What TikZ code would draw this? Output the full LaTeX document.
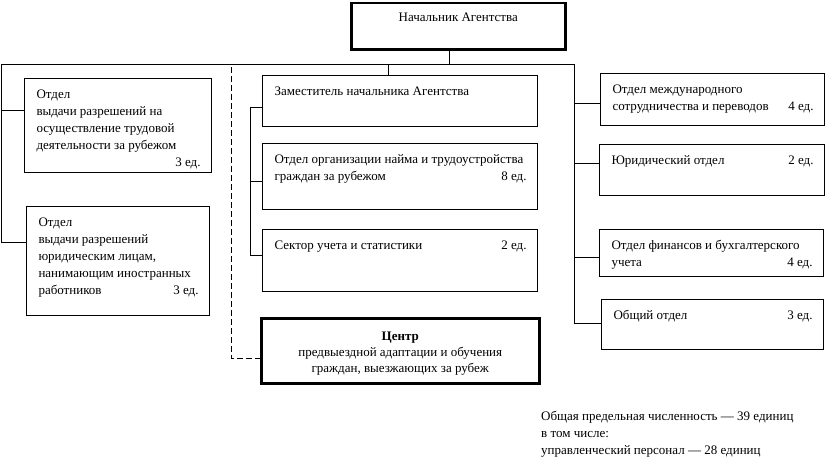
\documentclass[tikz,border=0pt]{standalone}
\usepackage{fontspec}
\setmainfont{Liberation Serif}
\usetikzlibrary{calc}
\tikzset{
  unit/.style={draw, line width=1pt, anchor=north west, inner sep=0pt},
  chief/.style={unit, line width=2.5pt},
  link/.style={line width=1pt},
  dashlink/.style={link, dash pattern=on 6pt off 3pt}
}
\newcommand{\unittext}[3]{\parbox[c][#2][t]{#1}{\leftskip=12pt\rightskip=11pt plus 1fil\parindent=0pt\rule{0pt}{20pt}#3}}
\newcommand{\chieftext}[4]{\parbox[c][#2][t]{#1}{\centering\baselineskip=16pt\rule{0pt}{#3}#4}}

\begin{document}
\begin{tikzpicture}[x=1pt,y=-1pt,font=\fontsize{13}{17}\selectfont]
  \useasboundingbox (0,0) rectangle (826,469);
  % head of the agency
  \node[chief] (head) at (350,1.5) {\chieftext{214pt}{46.5pt}{18.5pt}{Начальник Агентства}};
  % left column
  \node[unit] (lb1) at (24,78) {\unittext{187pt}{94pt}{Отдел\\выдачи разрешений на\\осуществление трудовой\\деятельности за рубежом\\\null\hfill 3~ед.}};
  \node[unit] (lb2) at (26,206) {\unittext{183pt}{109pt}{Отдел\\выдачи разрешений\\юридическим лицам,\\нанимающим иностранных\\работников\hfill 3~ед.}};
  % middle column
  \node[unit] (cb1) at (262,75) {\unittext{275pt}{51pt}{Заместитель начальника Агентства}};
  \node[unit] (cb2) at (262,143) {\unittext{275pt}{66pt}{Отдел организации найма и трудоустройства\\граждан за рубежом\hfill 8~ед.}};
  \node[unit] (cb3) at (262,229) {\unittext{275pt}{62pt}{Сектор учета и статистики\hfill 2~ед.}};
  \node[chief] (centre) at (260,317) {\chieftext{278pt}{65pt}{22pt}{\textbf{Центр}\\предвыездной адаптации и обучения\\граждан, выезжающих за рубеж}};
  % right column
  \node[unit] (rb1) at (600,73) {\unittext{224pt}{52pt}{Отдел международного\\сотрудничества и переводов\hfill 4~ед.}};
  \node[unit] (rb2) at (599,144) {\unittext{225pt}{51pt}{Юридический отдел\hfill 2~ед.}};
  \node[unit] (rb3) at (599,229) {\unittext{224pt}{47pt}{Отдел финансов и бухгалтерского\\учета\hfill 4~ед.}};
  \node[unit] (rb4) at (601,299) {\unittext{222pt}{50pt}{Общий отдел\hfill 3~ед.}};
  % totals
  \node[anchor=base west, inner sep=0pt] (total) at (541,420) {\parbox[t]{280pt}{Общая предельная численность — 39 единиц\\в том числе:\\управленческий персонал — 28 единиц}};

  % trunk points
  \coordinate (hd) at (449,64);
  \coordinate (topL) at (1,64);
  \coordinate (topR) at (574,64);
  \coordinate (dep) at (388,64);
  \coordinate (l1) at (1,110);
  \coordinate (l2) at (1,242);
  \coordinate (c1) at (250,107);
  \coordinate (c2) at (250,181);
  \coordinate (c3) at (250,255);
  \coordinate (r1) at (574,103);
  \coordinate (r2) at (574,163);
  \coordinate (r3) at (574,257);
  \coordinate (r4) at (574,323);
  \coordinate (d1) at (231,67);
  \coordinate (d2) at (231,358);

  \draw[link] (hd) -- (hd |- head.south);
  \draw[link] (topL) -- (topR);
  \draw[link] (topL) -- (l2) -- (l2 -| lb2.west);
  \draw[link] (l1) -- (l1 -| lb1.west);
  \draw[link] (dep) -- (dep |- cb1.north);
  \draw[link] (c1 -| cb1.west) -- (c1) -- (c3) -- (c3 -| cb3.west);
  \draw[link] (c2) -- (c2 -| cb2.west);
  \draw[link] (topR) -- (r4) -- (r4 -| rb4.west);
  \draw[link] (r1) -- (r1 -| rb1.west);
  \draw[link] (r2) -- (r2 -| rb2.west);
  \draw[link] (r3) -- (r3 -| rb3.west);
  \draw[dashlink] (d1) -- (d2) -- (d2 -| centre.west);
\end{tikzpicture}
\end{document}
